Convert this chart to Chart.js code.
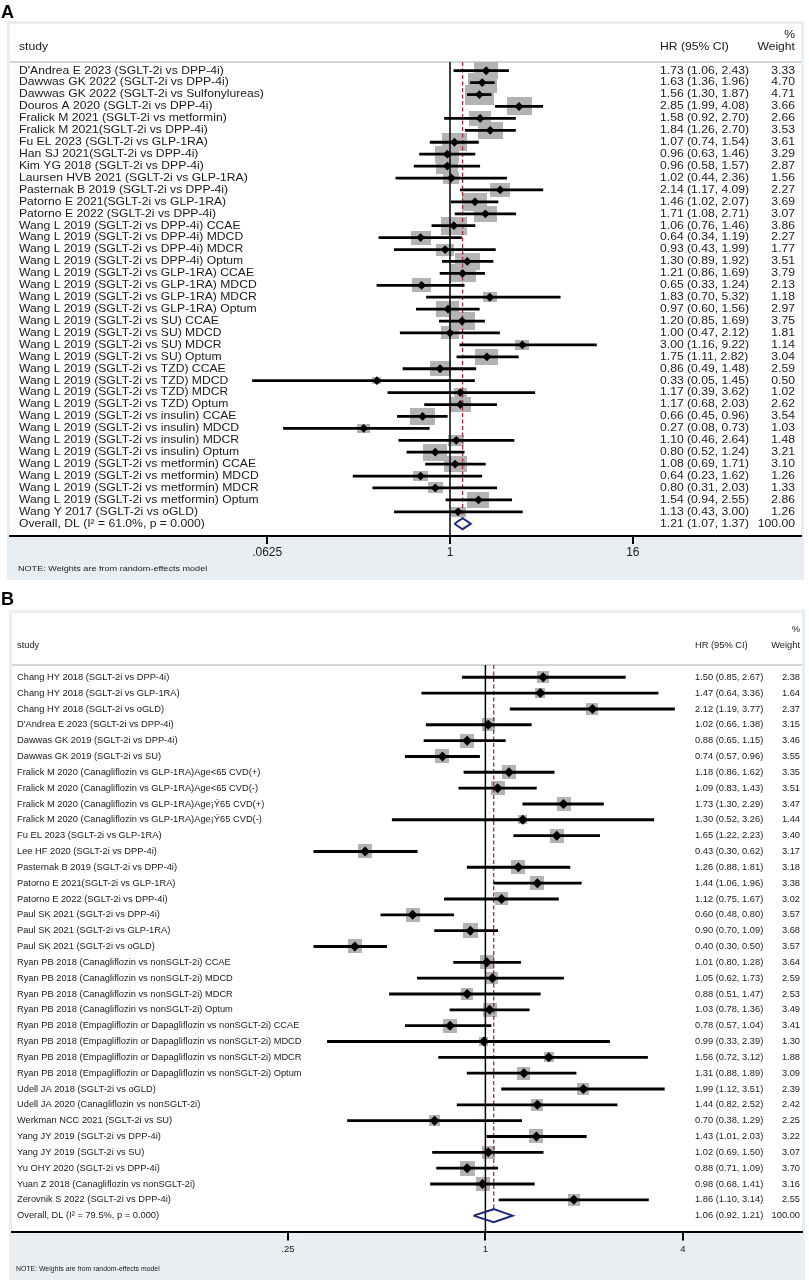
<!DOCTYPE html>
<html>
<head>
<meta charset="utf-8">
<script src="https://cdn.jsdelivr.net/npm/chart.js@4.4.1/dist/chart.umd.min.js"></script>
<style>
  html, body { margin: 0; padding: 0; background: #fff; }
  #wrap { position: relative; width: 809px; height: 1281px; }
  canvas { position: absolute; left: 0; }
  #chartA { top: 0; }
  #chartB { top: 590px; }
</style>
</head>
<body>
<div id="wrap">
  <canvas id="chartA" width="809" height="590"></canvas>
  <canvas id="chartB" width="809" height="691"></canvas>
</div>
<script>
// ---------- panel A ----------
const studiesA = [
  "D'Andrea E 2023 (SGLT-2i vs DPP-4i)",
  "Dawwas GK 2022 (SGLT-2i vs DPP-4i)",
  "Dawwas GK 2022 (SGLT-2i vs Sulfonylureas)",
  "Douros A 2020 (SGLT-2i vs DPP-4i)",
  "Fralick M 2021 (SGLT-2i vs metformin)",
  "Fralick M 2021(SGLT-2i vs DPP-4i)",
  "Fu EL 2023 (SGLT-2i vs GLP-1RA)",
  "Han SJ 2021(SGLT-2i vs DPP-4i)",
  "Kim YG 2018 (SGLT-2i vs DPP-4i)",
  "Laursen HVB 2021 (SGLT-2i vs GLP-1RA)",
  "Pasternak B 2019 (SGLT-2i vs DPP-4i)",
  "Patorno E 2021(SGLT-2i vs GLP-1RA)",
  "Patorno E 2022 (SGLT-2i vs DPP-4i)",
  "Wang L 2019 (SGLT-2i vs DPP-4i) CCAE",
  "Wang L 2019 (SGLT-2i vs DPP-4i) MDCD",
  "Wang L 2019 (SGLT-2i vs DPP-4i) MDCR",
  "Wang L 2019 (SGLT-2i vs DPP-4i) Optum",
  "Wang L 2019 (SGLT-2i vs GLP-1RA) CCAE",
  "Wang L 2019 (SGLT-2i vs GLP-1RA) MDCD",
  "Wang L 2019 (SGLT-2i vs GLP-1RA) MDCR",
  "Wang L 2019 (SGLT-2i vs GLP-1RA) Optum",
  "Wang L 2019 (SGLT-2i vs SU) CCAE",
  "Wang L 2019 (SGLT-2i vs SU) MDCD",
  "Wang L 2019 (SGLT-2i vs SU) MDCR",
  "Wang L 2019 (SGLT-2i vs SU) Optum",
  "Wang L 2019 (SGLT-2i vs TZD) CCAE",
  "Wang L 2019 (SGLT-2i vs TZD) MDCD",
  "Wang L 2019 (SGLT-2i vs TZD) MDCR",
  "Wang L 2019 (SGLT-2i vs TZD) Optum",
  "Wang L 2019 (SGLT-2i vs insulin) CCAE",
  "Wang L 2019 (SGLT-2i vs insulin) MDCD",
  "Wang L 2019 (SGLT-2i vs insulin) MDCR",
  "Wang L 2019 (SGLT-2i vs insulin) Optum",
  "Wang L 2019 (SGLT-2i vs metformin) CCAE",
  "Wang L 2019 (SGLT-2i vs metformin) MDCD",
  "Wang L 2019 (SGLT-2i vs metformin) MDCR",
  "Wang L 2019 (SGLT-2i vs metformin) Optum",
  "Wang Y 2017 (SGLT-2i vs oGLD)"
];
const hrA = [1.73,1.63,1.56,2.85,1.58,1.84,1.07,0.96,0.96,1.02,2.14,1.46,1.71,1.06,0.64,0.93,1.30,1.21,0.65,1.83,0.97,1.20,1.00,3.00,1.75,0.86,0.33,1.17,1.17,0.66,0.27,1.10,0.80,1.08,0.64,0.80,1.54,1.13];
const loA = [1.06,1.36,1.30,1.99,0.92,1.26,0.74,0.63,0.58,0.44,1.17,1.02,1.08,0.76,0.34,0.43,0.89,0.86,0.33,0.70,0.60,0.85,0.47,1.16,1.11,0.49,0.05,0.39,0.68,0.45,0.08,0.46,0.52,0.69,0.23,0.31,0.94,0.43];
const hiA = [2.43,1.96,1.87,4.08,2.70,2.70,1.54,1.46,1.57,2.36,4.09,2.07,2.71,1.46,1.19,1.99,1.92,1.69,1.24,5.32,1.56,1.69,2.12,9.22,2.82,1.48,1.45,3.62,2.03,0.96,0.73,2.64,1.24,1.71,1.62,2.03,2.55,3.00];
const weightA = [3.33,4.70,4.71,3.66,2.66,3.53,3.61,3.29,2.87,1.56,2.27,3.69,3.07,3.86,2.27,1.77,3.51,3.79,2.13,1.18,2.97,3.75,1.81,1.14,3.04,2.59,0.50,1.02,2.62,3.54,1.03,1.48,3.21,3.10,1.26,1.33,2.86,1.26];
const overallLabelA = "Overall, DL (I\u00b2 = 61.0%, p = 0.000)";
const overallA = [1.21, 1.07, 1.37];   // HR, lower, upper
const ticksA = [0.0625, 1, 16];
const tickLabelsA = ['.0625', '1', '16'];

// ---------- panel B ----------
const studiesB = [
  "Chang HY 2018 (SGLT-2i vs DPP-4i)",
  "Chang HY 2018 (SGLT-2i vs GLP-1RA)",
  "Chang HY 2018 (SGLT-2i vs oGLD)",
  "D'Andrea E 2023 (SGLT-2i vs DPP-4i)",
  "Dawwas GK 2019 (SGLT-2i vs DPP-4i)",
  "Dawwas GK 2019 (SGLT-2i vs SU)",
  "Fralick M 2020 (Canagliflozin vs GLP-1RA)Age<65 CVD(+)",
  "Fralick M 2020 (Canagliflozin vs GLP-1RA)Age<65 CVD(-)",
  "Fralick M 2020 (Canagliflozin vs GLP-1RA)Age\u00a1\u00dd65 CVD(+)",
  "Fralick M 2020 (Canagliflozin vs GLP-1RA)Age\u00a1\u00dd65 CVD(-)",
  "Fu EL 2023 (SGLT-2i vs GLP-1RA)",
  "Lee HF 2020 (SGLT-2i vs DPP-4i)",
  "Pasternak B 2019 (SGLT-2i vs DPP-4i)",
  "Patorno E 2021(SGLT-2i vs GLP-1RA)",
  "Patorno E 2022 (SGLT-2i vs DPP-4i)",
  "Paul SK 2021 (SGLT-2i vs DPP-4i)",
  "Paul SK 2021 (SGLT-2i vs GLP-1RA)",
  "Paul SK 2021 (SGLT-2i vs oGLD)",
  "Ryan PB 2018 (Canagliflozin vs nonSGLT-2i) CCAE",
  "Ryan PB 2018 (Canagliflozin vs nonSGLT-2i) MDCD",
  "Ryan PB 2018 (Canagliflozin vs nonSGLT-2i) MDCR",
  "Ryan PB 2018 (Canagliflozin vs nonSGLT-2i) Optum",
  "Ryan PB 2018 (Empagliflozin or Dapagliflozin vs nonSGLT-2i) CCAE",
  "Ryan PB 2018 (Empagliflozin or Dapagliflozin vs nonSGLT-2i) MDCD",
  "Ryan PB 2018 (Empagliflozin or Dapagliflozin vs nonSGLT-2i) MDCR",
  "Ryan PB 2018 (Empagliflozin or Dapagliflozin vs nonSGLT-2i) Optum",
  "Udell JA 2018 (SGLT-2i vs oGLD)",
  "Udell JA 2020 (Canagliflozin vs nonSGLT-2i)",
  "Werkman NCC 2021 (SGLT-2i vs SU)",
  "Yang JY 2019 (SGLT-2i vs DPP-4i)",
  "Yang JY 2019 (SGLT-2i vs SU)",
  "Yu OHY 2020 (SGLT-2i vs DPP-4i)",
  "Yuan Z 2018 (Canagliflozin vs nonSGLT-2i)",
  "Zerovnik S 2022 (SGLT-2i vs DPP-4i)"
];
const hrB = [1.50,1.47,2.12,1.02,0.88,0.74,1.18,1.09,1.73,1.30,1.65,0.43,1.26,1.44,1.12,0.60,0.90,0.40,1.01,1.05,0.88,1.03,0.78,0.99,1.56,1.31,1.99,1.44,0.70,1.43,1.02,0.88,0.98,1.86];
const loB = [0.85,0.64,1.19,0.66,0.65,0.57,0.86,0.83,1.30,0.52,1.22,0.30,0.88,1.06,0.75,0.48,0.70,0.30,0.80,0.62,0.51,0.78,0.57,0.33,0.72,0.88,1.12,0.82,0.38,1.01,0.69,0.71,0.68,1.10];
const hiB = [2.67,3.36,3.77,1.38,1.15,0.96,1.62,1.43,2.29,3.26,2.23,0.62,1.81,1.96,1.67,0.80,1.09,0.50,1.28,1.73,1.47,1.36,1.04,2.39,3.12,1.89,3.51,2.52,1.29,2.03,1.50,1.09,1.41,3.14];
const weightB = [2.38,1.64,2.37,3.15,3.46,3.55,3.35,3.51,3.47,1.44,3.40,3.17,3.18,3.38,3.02,3.57,3.68,3.57,3.64,2.59,2.53,3.49,3.41,1.30,1.88,3.09,2.39,2.42,2.25,3.22,3.07,3.70,3.16,2.55];
const overallLabelB = "Overall, DL (I\u00b2 = 79.5%, p = 0.000)";
const overallB = [1.06, 0.92, 1.21];
const ticksB = [0.25, 1, 4];
const tickLabelsB = ['.25', '1', '4'];

const noteText = 'NOTE: Weights are from random-effects model';

// ---------- layout / style ----------
const FONT = '"Liberation Sans", Arial, Helvetica, sans-serif';
const TEXT = '#1a1a1a';

const styleA = {
  panel: 'A', canvasH: 590, top: 24, left: 10, right: 801, axisH: 54,
  nullX: 450, pxPerLog2: 45.7, rowMin: -3.92, rowMax: 39.03, headLine: -0.73,
  font: 10.3, stretch: 1.18, noteFont: 7.7, noteY: 569, labelY: 18,
  frameTop: 21, frameBottom: 580,
  studyX: 19, hrX: 660, wtX: 795,
  boxW: 13.2, boxH: 9.3, marker: 4.4, ciWidth: 2.1, diamondHalf: 0.46,
  tickFont: 12, tickLen: 8, tickPad: 1
};
const styleB = {
  panel: 'B', canvasH: 691, top: 23, left: 12, right: 803, axisH: 49.5,
  nullX: 486, pxPerLog2: 98.9, rowMin: -4.06, rowMax: 35.0, headLine: -0.78,
  font: 9.3, stretch: 1, noteFont: 6.9, noteY: 679, labelY: 15,
  frameTop: 20, frameBottom: 690,
  studyX: 17, hrX: 695, wtX: 800,
  boxW: 7.6, boxH: 7.6, marker: 5, ciWidth: 2.2, diamondHalf: 0.41,
  tickFont: 9.5, tickLen: 9, tickPad: 3
};

function drawText(ctx, s, x, y, align, size, stretch, weight) {
  ctx.save();
  ctx.font = (weight || 'normal') + ' ' + size + 'px ' + FONT;
  ctx.fillStyle = TEXT;
  ctx.textBaseline = 'middle';
  ctx.textAlign = align;
  ctx.translate(x, y);
  ctx.scale(stretch, 1);
  ctx.fillText(s, 0, 0);
  ctx.restore();
}

function boxImage(w, h) {
  const c = document.createElement('canvas');
  c.width = Math.max(1, Math.round(w));
  c.height = Math.max(1, Math.round(h));
  const g = c.getContext('2d');
  g.fillStyle = '#b3b3b3';
  g.fillRect(0, 0, c.width, c.height);
  return c;
}

const ci = (h, l, u) => h.toFixed(2) + ' (' + l.toFixed(2) + ', ' + u.toFixed(2) + ')';

function forestPlugin(st, p) {
  return {
    id: 'forest' + st.panel,
    beforeDraw(chart) {
      const ctx = chart.ctx, a = chart.chartArea;
      ctx.save();
      ctx.fillStyle = '#e8eef2';
      ctx.fillRect(a.left - 3, st.frameTop, a.right - a.left + 6, st.frameBottom - st.frameTop);
      ctx.fillStyle = '#ffffff';
      ctx.fillRect(a.left, a.top, a.right - a.left, a.bottom - a.top);
      ctx.font = 'bold 18px ' + FONT;
      ctx.fillStyle = '#000';
      ctx.textBaseline = 'alphabetic';
      ctx.fillText(st.panel, 1, st.labelY);
      ctx.restore();
    },
    beforeDatasetsDraw(chart) {
      const ctx = chart.ctx, a = chart.chartArea, y = chart.scales.y;
      const hy = y.getPixelForValue(st.headLine);
      ctx.save();
      ctx.strokeStyle = '#d0d7db';
      ctx.lineWidth = 2;
      ctx.beginPath();
      ctx.moveTo(a.left, hy);
      ctx.lineTo(a.right, hy);
      ctx.stroke();
      ctx.restore();
    },
    afterDatasetDraw(chart, args) {
      if (args.index !== 3) return;   // after the weight boxes
      const ctx = chart.ctx, a = chart.chartArea, x = chart.scales.x, y = chart.scales.y;
      const hy = y.getPixelForValue(st.headLine);
      const n = p.studies.length;
      ctx.save();
      ctx.strokeStyle = '#000';
      ctx.lineWidth = 1.5;
      ctx.beginPath();
      ctx.moveTo(x.getPixelForValue(1), hy);
      ctx.lineTo(x.getPixelForValue(1), a.bottom);
      ctx.stroke();
      ctx.strokeStyle = '#b02a35';
      ctx.lineWidth = 1.3;
      ctx.setLineDash([4, 2.5]);
      ctx.beginPath();
      const ox = x.getPixelForValue(p.overall[0]);
      ctx.moveTo(ox, hy);
      ctx.lineTo(ox, y.getPixelForValue(n - st.diamondHalf));
      ctx.stroke();
      ctx.restore();
    },
    afterDraw(chart) {
      const ctx = chart.ctx, y = chart.scales.y;
      const f = st.font, s = st.stretch;
      drawText(ctx, '%', st.wtX, y.getPixelForValue(-3), 'right', f, s);
      drawText(ctx, 'study', st.studyX, y.getPixelForValue(-2), 'left', f, s);
      drawText(ctx, 'HR (95% CI)', st.hrX, y.getPixelForValue(-2), 'left', f, s);
      drawText(ctx, 'Weight', st.wtX, y.getPixelForValue(-2), 'right', f, s);
      p.studies.forEach((name, i) => {
        const py = y.getPixelForValue(i);
        drawText(ctx, name, st.studyX, py, 'left', f, s);
        drawText(ctx, ci(p.hr[i], p.lo[i], p.hi[i]), st.hrX, py, 'left', f, s);
        drawText(ctx, p.wt[i].toFixed(2), st.wtX, py, 'right', f, s);
      });
      const oy = y.getPixelForValue(p.studies.length);
      drawText(ctx, p.overallLabel, st.studyX, oy, 'left', f, s);
      drawText(ctx, ci(p.overall[0], p.overall[1], p.overall[2]), st.hrX, oy, 'left', f, s);
      drawText(ctx, '100.00', st.wtX, oy, 'right', f, s);
      drawText(ctx, noteText, st.studyX - 1, st.noteY, 'left', st.noteFont, s);
    }
  };
}

function buildForest(id, st, p) {
  const n = p.studies.length;
  const h = st.diamondHalf;
  const pooled = [
    {x: p.overall[1], y: n}, {x: p.overall[0], y: n - h},
    {x: p.overall[2], y: n}, {x: p.overall[0], y: n + h},
    {x: p.overall[1], y: n}
  ];
  return new Chart(document.getElementById(id), {
    type: 'scatter',
    data: {
      datasets: [
        {
          label: 'HR',
          data: p.hr.map((v, i) => ({x: v, y: i})),
          pointStyle: 'rectRot',
          pointRadius: st.marker,
          backgroundColor: '#000',
          borderWidth: 0,
          order: 1
        },
        {
          type: 'bar',
          label: '95% CI',
          indexAxis: 'y',
          data: p.lo.map((v, i) => ({x: [v, p.hi[i]], y: i})),
          backgroundColor: '#000',
          barThickness: st.ciWidth,
          order: 2
        },
        {
          label: 'Overall',
          data: pooled,
          showLine: true,
          borderColor: '#1f2a7c',
          borderWidth: 2,
          borderJoinStyle: 'miter',
          pointRadius: 0,
          fill: false,
          order: 1
        },
        {
          label: 'Weight',
          data: p.hr.map((v, i) => ({x: v, y: i})),
          pointStyle: p.wt.map(w => boxImage(st.boxW * Math.sqrt(w), st.boxH * Math.sqrt(w))),
          pointRadius: 6,
          order: 3
        }
      ]
    },
    options: {
      responsive: false,
      animation: false,
      events: [],
      layout: { padding: { left: st.left, right: 809 - st.right, top: st.top, bottom: 0 } },
      plugins: { legend: { display: false }, tooltip: { enabled: false } },
      scales: {
        x: {
          type: 'logarithmic',
          bounds: 'data',
          offset: false,
          beginAtZero: false,
          min: Math.pow(2, (st.left - st.nullX) / st.pxPerLog2),
          max: Math.pow(2, (st.right - st.nullX) / st.pxPerLog2),
          afterBuildTicks: s => { s.ticks = p.ticks.map(v => ({value: v})); },
          afterFit: s => { s.height = st.axisH; },
          ticks: {
            callback: (v, i) => p.tickLabels[i],
            color: TEXT,
            font: { family: FONT, size: st.tickFont },
            padding: st.tickPad,
            maxRotation: 0,
            autoSkip: false
          },
          grid: { offset: false, drawOnChartArea: false, drawTicks: true, tickLength: st.tickLen, color: '#000', lineWidth: 2 },
          border: { display: true, color: '#000', width: 2 }
        },
        y: {
          type: 'linear', reverse: true, offset: false, grid: { offset: false },
          min: st.rowMin, max: st.rowMax, display: false
        }
      }
    },
    plugins: [forestPlugin(st, p)]
  });
}

const panelA = {
  studies: studiesA, hr: hrA, lo: loA, hi: hiA, wt: weightA,
  overallLabel: overallLabelA, overall: overallA, ticks: ticksA, tickLabels: tickLabelsA
};
const panelB = {
  studies: studiesB, hr: hrB, lo: loB, hi: hiB, wt: weightB,
  overallLabel: overallLabelB, overall: overallB, ticks: ticksB, tickLabels: tickLabelsB
};

buildForest('chartA', styleA, panelA);
buildForest('chartB', styleB, panelB);
</script>
</body>
</html>
